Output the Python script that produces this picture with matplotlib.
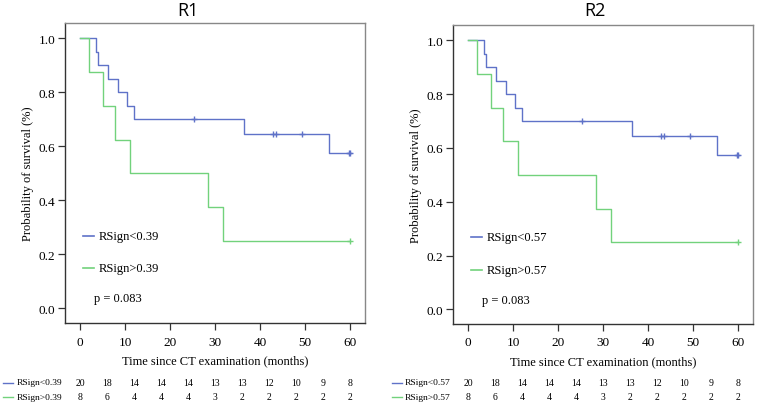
import matplotlib.pyplot as plt
from matplotlib.lines import Line2D
from matplotlib.transforms import blended_transform_factory

# survival curves (same for both panels)
blue_t = [0, 3.6, 3.9, 6.2, 8.5, 10.4, 11.9, 36.5, 55.3, 60]
blue_s = [1.0, 0.95, 0.90, 0.85, 0.80, 0.75, 0.70, 0.646, 0.574, 0.574]
blue_cens_t = [25.3, 42.8, 43.6, 49.4, 59.8, 60]
blue_cens_s = [0.70, 0.646, 0.646, 0.646, 0.574, 0.574]

green_t = [0, 1.9, 5.0, 7.7, 11.0, 28.5, 31.7, 60]
green_s = [1.0, 0.875, 0.75, 0.625, 0.5, 0.375, 0.25, 0.25]
green_cens_t = [60]
green_cens_s = [0.25]

risk_times = [0, 6, 12, 18, 24, 30, 36, 42, 48, 54, 60]
risk_blue = [20, 18, 14, 14, 14, 13, 13, 12, 10, 9, 8]
risk_green = [8, 6, 4, 4, 4, 3, 2, 2, 2, 2, 2]

titles = ["R1", "R2"]
cutoffs = ["0.39", "0.57"]
p_text = "p = 0.083"

BLUE = "#5f72c8"
GREEN = "#72d27c"
SERIF = "Liberation Serif"

W, H = 757, 406
fig = plt.figure(figsize=(W / 100, H / 100), dpi=100)

# axes boxes in pixels: left, top, right, bottom
boxes = [(65, 24, 365, 324), (453, 26, 753, 325)]
title_x = [187.5, 594.5]
label_line_x = [(3, 13, 17), (392, 402, 405)]

for i in range(2):
    l, t, r, b = boxes[i]
    ax = fig.add_axes([l / W, 1 - b / H, (r - l) / W, (b - t) / H])
    ax.step(blue_t, blue_s, where="post", color=BLUE, lw=1.0)
    ax.step(green_t, green_s, where="post", color=GREEN, lw=1.0)
    ax.plot(blue_cens_t, blue_cens_s, "+", color=BLUE, ms=5, mew=1.0)
    ax.plot(green_cens_t, green_cens_s, "+", color=GREEN, ms=5, mew=1.0)

    ax.set_xlim(-3.33, 63.3)
    ax.set_ylim(-0.054, 1.057)
    ax.set_xticks(range(0, 61, 10))
    ax.set_yticks([0.0, 0.2, 0.4, 0.6, 0.8, 1.0])
    ax.set_yticklabels(["0.0", "0.2", "0.4", "0.6", "0.8", "1.0"])
    ax.tick_params(direction="out", length=5, width=0.9, color="#333333",
                   labelsize=9.5, pad=2)
    for lab in ax.get_xticklabels() + ax.get_yticklabels():
        lab.set_family(SERIF)
    ax.tick_params(axis="x", pad=4)
    for side in ["left", "bottom"]:
        ax.spines[side].set_color("#333333")
        ax.spines[side].set_linewidth(1.0)
    for side in ["top", "right"]:
        ax.spines[side].set_color("#888888")
        ax.spines[side].set_linewidth(1.0)

    ax.set_xlabel("Time since CT examination (months)", family=SERIF,
                  fontsize=9, labelpad=5)
    ax.set_ylabel("Probability of survival (%)", family=SERIF,
                  fontsize=9, labelpad=3)

    # in-plot legend
    ax.plot([0.6, 3.1], [0.269, 0.269], color=BLUE, lw=1.2)
    ax.text(4.1, 0.269, "RSign<" + cutoffs[i], family=SERIF, fontsize=9,
            va="center")
    ax.plot([0.6, 3.1], [0.148, 0.148], color=GREEN, lw=1.2)
    ax.text(4.1, 0.148, "RSign>" + cutoffs[i], family=SERIF, fontsize=9,
            va="center")
    ax.text(3.2, 0.037, p_text, family=SERIF, fontsize=9, va="center")

    fig.text(title_x[i] / W, 1 - 10.5 / H, titles[i], fontsize=13,
             family="Open Sans", ha="center", va="center")

    # number at risk table
    trans = blended_transform_factory(ax.transData, fig.transFigure)
    y1, y2 = 1 - 383.5 / H, 1 - 398 / H
    for tt, nb, ng in zip(risk_times, risk_blue, risk_green):
        ax.text(tt, y1, str(nb), transform=trans, ha="center", va="center",
                family=SERIF, fontsize=7, clip_on=False)
        ax.text(tt, y2, str(ng), transform=trans, ha="center", va="center",
                family=SERIF, fontsize=7, clip_on=False)
    x0, x1, xt = label_line_x[i]
    fig.add_artist(Line2D([x0 / W, x1 / W], [y1, y1], color=BLUE, lw=1.0))
    fig.add_artist(Line2D([x0 / W, x1 / W], [y2, y2], color=GREEN, lw=1.0))
    fig.text(xt / W, y1, "RSign<" + cutoffs[i], family=SERIF, fontsize=6.8,
             va="center")
    fig.text(xt / W, y2, "RSign>" + cutoffs[i], family=SERIF, fontsize=6.8,
             va="center")

fig.savefig("out.png", dpi=100)
